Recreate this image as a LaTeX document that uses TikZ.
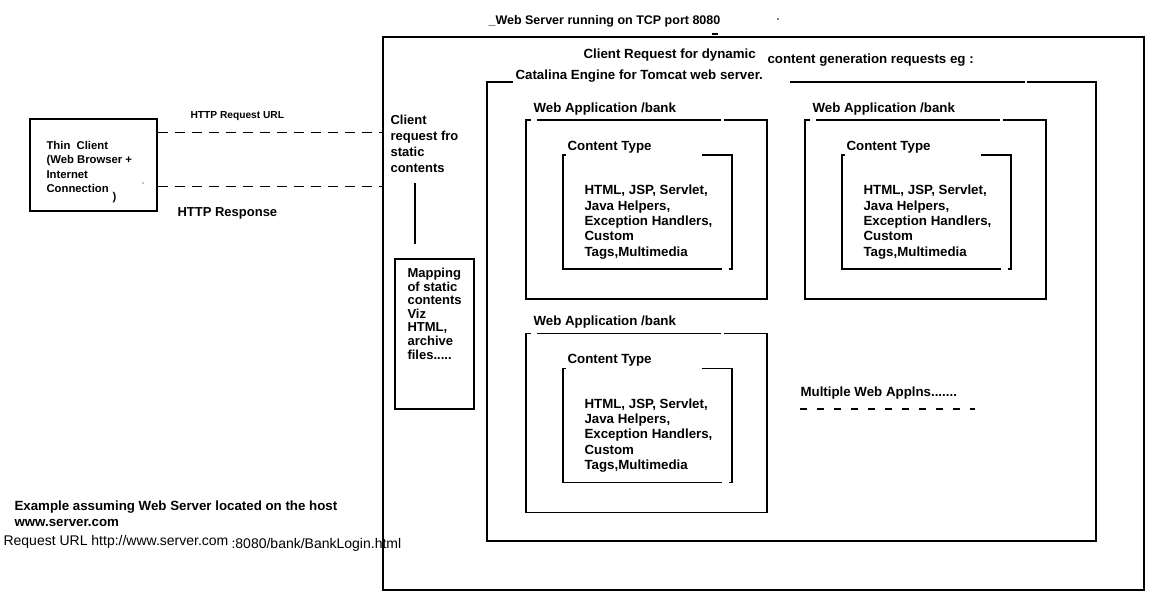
\documentclass[tikz,border=0pt]{standalone}
\usepackage{fontspec}
\setmainfont{Liberation Sans}
\usetikzlibrary{positioning}

\tikzset{
  txt/.style={anchor=base west,inner sep=0pt,align=left,
    font=\bfseries\fontsize{13.3}{15.3}\selectfont},
  box/.style={draw,line width=1.1pt,inner sep=0pt},
  httpline/.style={line width=1.1pt,dash pattern=on 10pt off 7pt},
}

\begin{document}
\begin{tikzpicture}[x=1pt,y=-1pt,line width=1.1pt]
\useasboundingbox (0,0) rectangle (1159,600);
% web server
\node[box,minimum width=761pt,minimum height=553pt] (server) at (763.5,313.5) {};
\node[txt,font=\bfseries\fontsize{12.5}{14}\selectfont] (title) at (488,24) {\_Web Server running on TCP port 8080};
\draw (712,34) -- (718,34);
\fill (778,19) circle (0.8pt);
\node[txt] (dynamic) at (583,58) {Client Request for dynamic};
\node[txt] (dynamic2) at (767,63) {content generation requests eg :};
% catalina
\node[txt] (engine) at (515,79) {Catalina Engine for Tomcat web server.};
\draw (513,82) -- (487,82) -- (487,541) -- (1096,541) -- (1096,82) -- (1027,82)
  (1025,82) -- (790,82);
% web applications (base = last line)
\foreach \dx/\dy [count=\n] in {0/0,279/0,0/213.5}
{
\begin{scope}[shift={(\dx,\dy)}]
\node[txt] (app\n) at (533,112) {Web Application /bank};
\draw (531,120) -- (526,120) -- (526,299) -- (767,299) -- (767,120) -- (724,120)
  (721,120) -- (537,120);
\node[txt] (type\n) at (567,150) {Content Type};
\draw (566,155) -- (563,155) -- (563,269) -- (722,269)
  (729,269) -- (732,269) -- (732,155) -- (702,155);
\node[txt] (content\n) at (584,256) {HTML, JSP, Servlet,\\Java Helpers,\\Exception Handlers,\\Custom\\Tags,Multimedia};
\end{scope}
}
\node[txt] (more) at (800,396) {Multiple Web Applns.......};
\draw[dash pattern=on 7pt off 10pt] (800,409) -- (975,409);
% client
\node[box,minimum width=127pt,minimum height=92pt] (client) at (93.5,165) {};
\node[txt,font=\bfseries\fontsize{11.3}{14.5}\selectfont] (clienttext) at (46,192.5)
  {Thin\ \ Client\\(Web Browser +\\Internet\\Connection};
\node[txt,font=\bfseries\fontsize{11.3}{14.5}\selectfont] (paren) at (112,200) {)};
\fill (143,183) circle (0.6pt);
\draw[httpline] ([yshift=-14pt]client.north east) coordinate (req) -- (req -| server.west);
\draw[httpline] ([yshift=25pt]client.south east) coordinate (resp) -- (resp -| server.west);
\node[txt,font=\bfseries\fontsize{10.2}{12}\selectfont] (reqlabel) at (190,118) {HTTP Request URL};
\node[txt,font=\bfseries\fontsize{13}{15}\selectfont] (resplabel) at (177,216.5) {HTTP Response};
% static contents
\node[txt,font=\bfseries\fontsize{13}{15.7}\selectfont] (static) at (390,172) {Client\\request fro\\static\\contents};
\node[box,minimum width=79pt,minimum height=150pt] (mapping) at (434.5,334) {};
\node[txt,font=\bfseries\fontsize{13}{13.6}\selectfont] (mappingtext) at (407,359)
  {Mapping\\of static\\contents\\Viz\\HTML,\\archive\\files.....};
\coordinate (link) at (415,183);
\draw[shorten >=14pt] (link) -- (link |- mapping.north);
% example
\node[txt,font=\bfseries\fontsize{13.3}{15.5}\selectfont] (example) at (14,526)
  {Example assuming Web Server located on the host\\www.server.com};
\node[txt,font=\fontsize{14}{16}\selectfont] (url) at (3,545) {Request URL http://www.server.com};
\node[txt,font=\fontsize{14}{16}\selectfont] (url2) at (231,548) {:8080/bank/BankLogin.html};
\end{tikzpicture}
\end{document}
